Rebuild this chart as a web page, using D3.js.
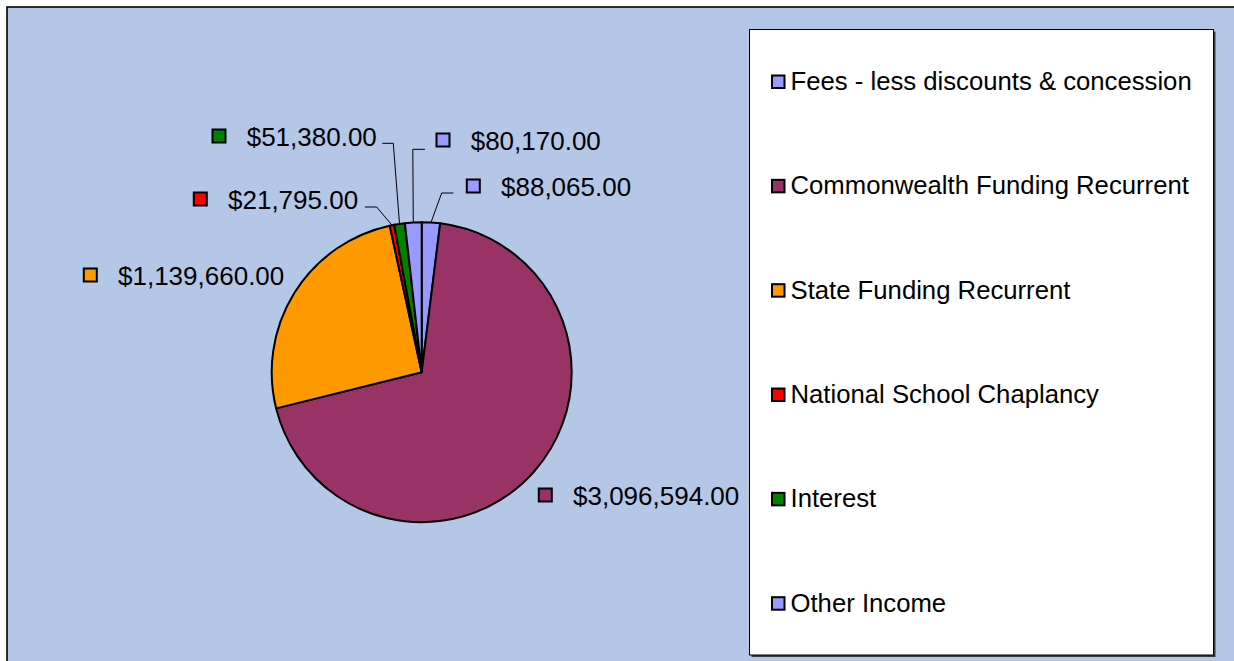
<!DOCTYPE html>
<html>
<head>
<meta charset="utf-8">
<script src="https://cdn.jsdelivr.net/npm/d3@7"></script>
<style>
html,body{margin:0;padding:0;background:#fff;}
svg{display:block;}
text{font-family:"Liberation Sans",Arial,sans-serif;fill:#000;}
</style>
</head>
<body>
<svg id="chart" width="1234" height="661"></svg>
<script>
// ---- data ----
const categories = [
  "Fees - less discounts & concession",
  "Commonwealth Funding Recurrent",
  "State Funding Recurrent",
  "National School Chaplancy",
  "Interest",
  "Other Income"
];
const values = [88065, 3096594, 1139660, 21795, 51380, 80170];
const colors = ["#9999FF", "#993366", "#FF9900", "#FF0000", "#008000", "#9999FF"];

// ---- layout for data labels (text anchor x, baseline y, leader elbow, leader end x) ----
const labelLayout = [
  {tx: 501, ty: 196, leader: {ex: 441.7, ey: 193, hx: 453.5}},
  {tx: 573, ty: 505, leader: null},
  {tx: 118, ty: 285, leader: null},
  {tx: 228, ty: 209, leader: {ex: 376.7, ey: 207, hx: 365}},
  {tx: 246.7, ty: 146, leader: {ex: 393.3, ey: 143.3, hx: 382.3}},
  {tx: 470.7, ty: 150, leader: {ex: 412.8, ey: 149.3, hx: 425}}
];

const W = 1234, H = 661;
const svg = d3.select("#chart");
const fmt = v => "$" + d3.format(",.2f")(v);

// chart area background
svg.append("rect").attr("x", 7).attr("y", 7).attr("width", W + 20).attr("height", H + 20)
  .attr("fill", "#B4C7E7").attr("stroke", "#000").attr("stroke-width", 1.6);

// pie
const cx = 421.7, cy = 372.2, r = 150;
const pie = d3.pie().sort(null).value(d => d)(values);
const arc = d3.arc().innerRadius(0).outerRadius(r);
const g = svg.append("g").attr("transform", `translate(${cx},${cy})`);
g.selectAll("path").data(pie).join("path")
  .attr("d", arc)
  .attr("fill", (d, i) => colors[i])
  .attr("stroke", "#000").attr("stroke-width", 2).attr("stroke-linejoin", "round");

// leader lines
pie.forEach((d, i) => {
  const L = labelLayout[i].leader;
  if (!L) return;
  const a = (d.startAngle + d.endAngle) / 2;
  const x0 = cx + r * Math.sin(a), y0 = cy - r * Math.cos(a);
  svg.append("polyline")
    .attr("points", `${x0},${y0} ${L.ex},${L.ey} ${L.hx},${L.ey}`)
    .attr("fill", "none").attr("stroke", "#000").attr("stroke-width", 1);
});

// data labels
const fs = 26;
pie.forEach((d, i) => {
  const p = labelLayout[i];
  svg.append("rect")
    .attr("x", p.tx - 27.7 - 6.5).attr("y", p.ty - 10 - 6.5)
    .attr("width", 13).attr("height", 13)
    .attr("fill", colors[i]).attr("stroke", "#000").attr("stroke-width", 2);
  svg.append("text").attr("x", p.tx).attr("y", p.ty)
    .attr("font-size", fs).text(fmt(values[i]));
});

// legend
const lx = 749.5, ly = 29.5, lw = 464, lh = 625.5;
svg.append("rect").attr("x", lx + 2).attr("y", ly + 2).attr("width", lw).attr("height", lh)
  .attr("fill", "#3a3a3a");
svg.append("rect").attr("x", lx).attr("y", ly).attr("width", lw).attr("height", lh)
  .attr("fill", "#fff").attr("stroke", "#000").attr("stroke-width", 1);

const legY = d3.scalePoint().domain(d3.range(categories.length)).range([90, 611.7]);
categories.forEach((c, i) => {
  const by = legY(i);
  svg.append("rect").attr("x", 772).attr("y", by - 14.5).attr("width", 12.5).attr("height", 12.5)
    .attr("fill", colors[i]).attr("stroke", "#000").attr("stroke-width", 2);
  svg.append("text").attr("x", 790.5).attr("y", by).attr("font-size", 25.7).text(c);
});
</script>
</body>
</html>
